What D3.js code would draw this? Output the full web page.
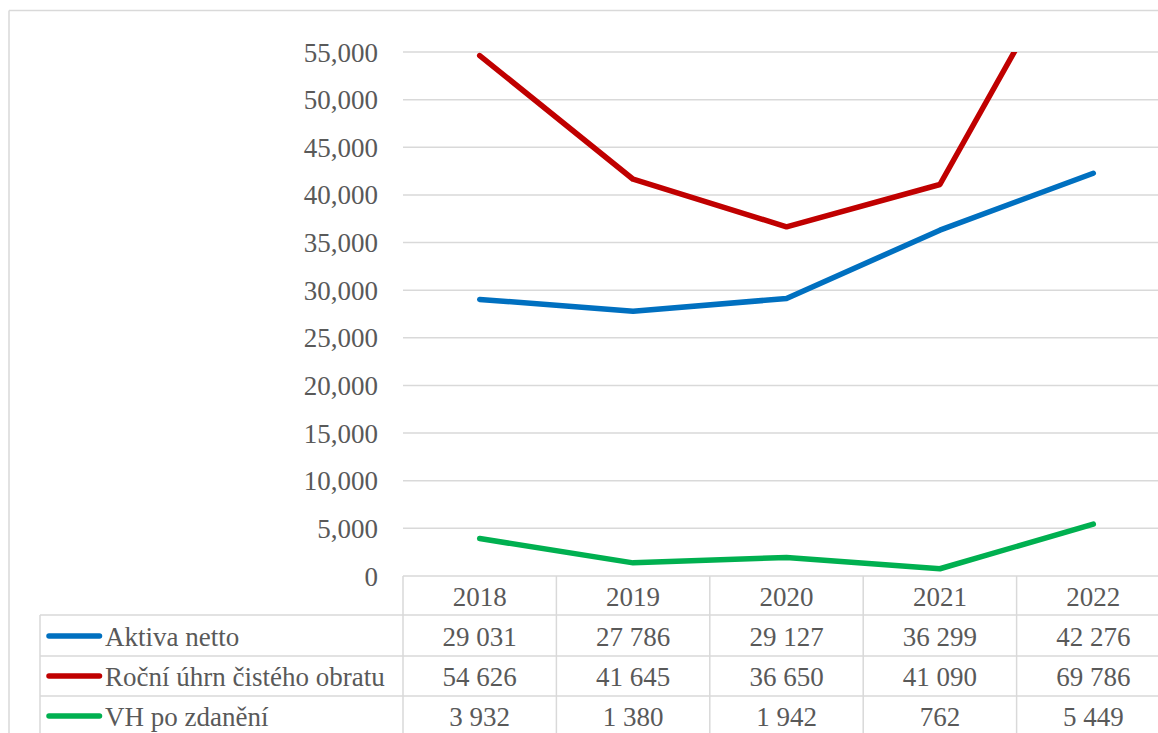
<!DOCTYPE html>
<html>
<head>
<meta charset="utf-8">
<script src="https://cdn.jsdelivr.net/npm/d3@7"></script>
</head>
<body style="margin:0">
<svg id="chart" width="1158" height="733"></svg>
<script>
const years = ["2018", "2019", "2020", "2021", "2022"];
const seriesNames = ["Aktiva netto", "Roční úhrn čistého obratu", "VH po zdanění"];
const aktivaNetto = [29031, 27786, 29127, 36299, 42276];
const rocniObrat = [54626, 41645, 36650, 41090, 69786];
const vhPoZdaneni = [3932, 1380, 1942, 762, 5449];
const yTicks = [0, 5000, 10000, 15000, 20000, 25000, 30000, 35000, 40000, 45000, 50000, 55000];
const seriesColors = ["#0070c0", "#c00000", "#00b050"];

const series = [
  { name: seriesNames[0], values: aktivaNetto, color: seriesColors[0] },
  { name: seriesNames[1], values: rocniObrat, color: seriesColors[1] },
  { name: seriesNames[2], values: vhPoZdaneni, color: seriesColors[2] }
];

const textColor = "#595959";
const svg = d3.select("#chart");
const W = 1158, H = 733;
const plotLeft = 403, plotRight = 1170, plotTop = 52, plotBottom = 576;
const rowH = 40;
const legendLeft = 40;
const fontSize = 27;
const gridColor = "#d9d9d9";

const x = d3.scaleBand().domain(years).range([plotLeft, plotRight]).padding(0);
const y = d3.scaleLinear().domain([0, 55000]).range([plotBottom, plotTop]);
const cx = d => x(d) + x.bandwidth() / 2;

function addText(tx, ty, str, anchor) {
  return svg.append("text")
    .attr("x", tx).attr("y", ty)
    .attr("font-size", fontSize)
    .attr("font-family", "Liberation Serif")
    .style("font-family", "'Liberation Serif'", "important")
    .style("fill", textColor)
    .attr("text-anchor", anchor)
    .text(str);
}
function addLine(x1, y1, x2, y2, color, w, cap) {
  return svg.append("line").attr("x1", x1).attr("y1", y1).attr("x2", x2).attr("y2", y2)
    .attr("stroke", color).attr("stroke-width", w).attr("stroke-linecap", cap || "butt");
}

// outer border
addLine(9, 10.5, W, 10.5, gridColor, 1.5);
addLine(9, 10.5, 9, H, gridColor, 1.5);

// gridlines
yTicks.filter(t => t > 0).forEach(t => addLine(plotLeft, y(t), plotRight, y(t), gridColor, 1.5));

// y axis labels
const fmtAxis = d3.format(",");
yTicks.forEach(t => addText(378, y(t) + 9.5, fmtAxis(t), "end"));

// data table grid
addLine(plotLeft, plotBottom, plotRight, plotBottom, gridColor, 1.5);
for (let i = 1; i <= series.length + 1; i++) {
  const yy = plotBottom + i * rowH - (i === 1 ? 1 : 0);
  addLine(legendLeft, yy, plotRight, yy, gridColor, 1.5);
}
years.map(d => x(d)).concat([plotRight]).forEach(e => addLine(e, plotBottom, e, H, gridColor, 1.5));
addLine(legendLeft, plotBottom + rowH - 1, legendLeft, H, gridColor, 1.5);

// header years
years.forEach(d => addText(cx(d), plotBottom + rowH / 2 + 9.5, d, "middle"));

// rows
const loc = d3.formatLocale({ decimal: ",", thousands: " ", grouping: [3], currency: ["", ""] });
const fmtTbl = loc.format(",d");
series.forEach((s, i) => {
  const rowMid = plotBottom + rowH * (i + 1) + rowH / 2;
  addLine(49, rowMid, 99.5, rowMid, s.color, 5.5, "round");
  addText(105, rowMid + 9.5, s.name, "start");
  years.forEach((d, j) => addText(cx(d), rowMid + 9.5, fmtTbl(s.values[j]), "middle"));
});

// clip for lines
svg.append("clipPath").attr("id", "plotClip").append("rect")
  .attr("x", plotLeft).attr("y", plotTop).attr("width", plotRight - plotLeft).attr("height", plotBottom - plotTop + 10);

const line = d3.line().x((d, j) => cx(years[j])).y(d => y(d));
svg.append("g").attr("clip-path", "url(#plotClip)").selectAll("path").data(series).join("path")
  .attr("d", s => line(s.values))
  .attr("fill", "none").attr("stroke", s => s.color)
  .attr("stroke-width", 5.5).attr("stroke-linejoin", "round").attr("stroke-linecap", "round");
</script>
</body>
</html>
